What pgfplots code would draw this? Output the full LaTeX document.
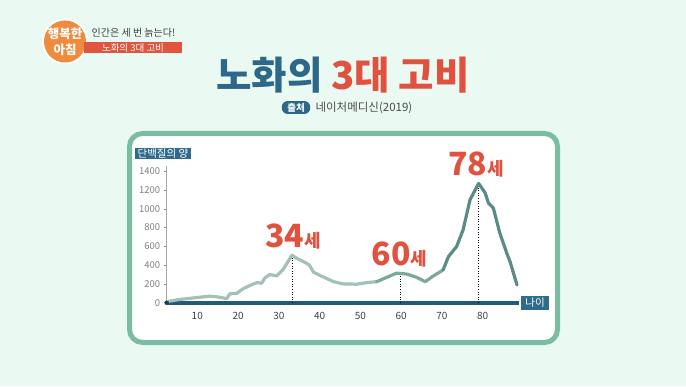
\documentclass[border=0pt]{standalone}
\usepackage{pgfplots}
\pgfplotsset{compat=1.18}
\usepackage{fontspec}
\setmainfont{Noto Sans CJK KR}
\definecolor{bgmint}{HTML}{EAF9F2}
\definecolor{framec}{HTML}{7BBDA3}
\definecolor{titleblue}{HTML}{2D6888}
\definecolor{titlered}{HTML}{E0523F}
\definecolor{axisblue}{HTML}{1F5B7B}
\definecolor{boxblue}{HTML}{2F6C8C}
\definecolor{curvelight}{HTML}{A3C2B5}
\definecolor{curvedark}{HTML}{5A8C87}
\definecolor{logoorange}{HTML}{F08A3C}
\definecolor{barred}{HTML}{E0553D}
\begin{document}
\begin{tikzpicture}[x=1pt,y=1pt]
\useasboundingbox (0,0) rectangle (686,386);
\fill[bgmint] (0,0) rectangle (686,386);
% frame
\draw[framec,line width=5pt,fill=white,rounded corners=13pt] (129.5,43.5) rectangle (557.5,252.5);
% logo
\fill[white] (65,344.5) circle (23);
\fill[logoorange] (65,344.5) circle (21);
\node[white,font=\fontsize{12.5}{12}\bfseries\selectfont] at (65,352) {행복한};
\node[white,font=\fontsize{12.5}{12}\bfseries\selectfont] at (65,336) {아침};
\node[text=black!75,font=\fontsize{10}{10}\selectfont] at (133.5,353) {인간은 세 번 늙는다!};
\fill[barred] (84,333) rectangle (182,344);
\node[white,font=\fontsize{9.5}{10}\selectfont] at (133,338.5) {노화의 3대 고비};
% title
\node[font=\fontsize{38.5}{38}\bfseries\selectfont] at (343,311) {\textcolor{titleblue}{노화의} \textcolor{titlered}{3대 고비}};
\node[fill=titleblue,text=white,rounded corners=6pt,inner xsep=5.5pt,inner ysep=2pt,font=\fontsize{9.5}{10}\bfseries\selectfont] at (296,278.5) {출처};
\node[text=black!70,font=\fontsize{11.5}{12}\selectfont,anchor=west] at (312,278.5) {네이처메디신(2019)};
\begin{axis}[
  at={(166.7pt,83.3pt)}, anchor=south west,
  scale only axis, width=352.7pt, height=136.2pt,
  xmin=2.5, xmax=89, ymin=0, ymax=1450,
  axis x line=bottom, axis y line=left,
  axis line style={-},
  x axis line style={axisblue,line width=4pt},
  y axis line style={black!35,line width=0.5pt},
  xtick={10,20,...,80}, ytick={0,200,...,1400},
  major x tick style={draw=none},
  major y tick style={black!45,line width=0.5pt},
  tick align=outside, major tick length=3pt,
  xticklabel style={text=black!75,font=\fontsize{10}{10}\selectfont,yshift=-3pt},
  yticklabel style={text=black!50,font=\fontsize{9.5}{10}\selectfont},
  /pgf/number format/assume math mode=true,
  /pgf/number format/1000 sep={},
  clip=false,
]
\addplot[curvelight,line width=3.2pt,line join=round,line cap=round] coordinates {
(3,15)(5,30)(7.4,43)(10,55)(13.1,70)(15,62)(17.2,43)(18,95)(19.7,100)(21.3,150)(23,185)(24.6,214)(25.8,207)(26.6,265)(27.8,300)(29.5,285)(31.1,357)(32,420)(33.2,505)(34.5,470)(36.4,430)(37.5,400)(38.5,325)(40.1,290)(43.4,224)(45.8,200)(49.1,197)(51.6,214)(54,224)
};
\addplot[curvelight!50!curvedark,line width=3.2pt,line join=round,line cap=round] coordinates {
(54,224)(56.9,278)(58.9,315)(61.4,305)(63.8,270)(65.9,224)(67.9,285)(70.3,349)
};
\addplot[curvedark,line width=3.2pt,line join=round,line cap=round] coordinates {
(70.3,349)(71.6,491)(73.6,598)(75.2,777)(76.9,1097)(79,1270)(80.6,1169)(81.4,1062)(82.6,1009)(84.2,741)(85.9,528)(86.7,438)(88.4,190)
};
\addplot[black,dotted,line width=0.6pt] coordinates {(33.2,0)(33.2,480)};
\addplot[black,dotted,line width=0.6pt] coordinates {(59.8,0)(59.8,295)};
\addplot[black,dotted,line width=0.6pt] coordinates {(79,0)(79,1245)};
\addplot[only marks,mark=*,mark size=2pt,color=axisblue!70!black] coordinates {(2.5,0)};
\end{axis}
% peak labels
\node[text=titlered,font=\bfseries] at (293,149) {{\fontsize{32}{32}\selectfont 34}{\fontsize{18}{18}\selectfont 세}};
\node[text=titlered,font=\bfseries] at (399.5,131) {{\fontsize{32}{32}\selectfont 60}{\fontsize{18}{18}\selectfont 세}};
\node[text=titlered,font=\bfseries] at (476,221) {{\fontsize{32}{32}\selectfont 78}{\fontsize{18}{18}\selectfont 세}};
% axis name boxes
\node[fill=boxblue,text=white,inner xsep=2.5pt,inner ysep=1pt,font=\fontsize{10.5}{11}\selectfont] at (163,232.4) {단백질의 양};
\node[fill=boxblue,text=white,inner xsep=4pt,inner ysep=2pt,font=\fontsize{10.5}{11}\selectfont] at (535,83) {나이};
\end{tikzpicture}
\end{document}
